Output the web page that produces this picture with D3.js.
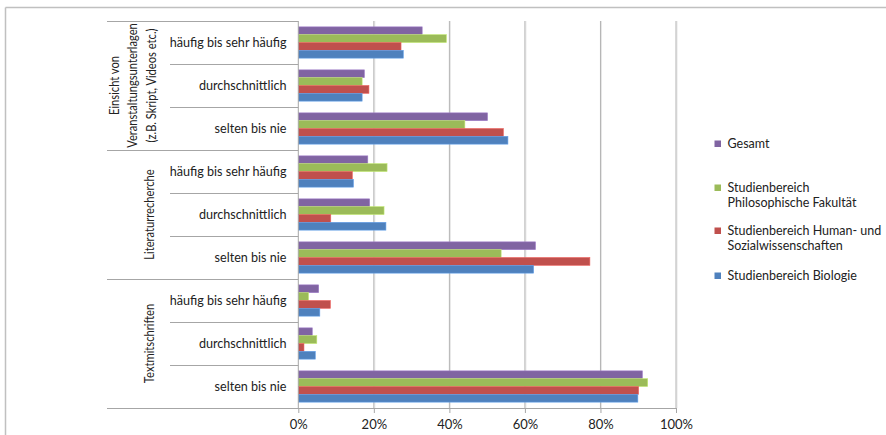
<!DOCTYPE html>
<html><head><meta charset="utf-8">
<script src="https://cdn.jsdelivr.net/npm/d3@7"></script>
<style>
body{margin:0;background:#fff;}
svg{display:block;}
text{font-family:"Lato","Open Sans",sans-serif;fill:#222;}
</style></head>
<body><svg id="c" width="886" height="435"></svg>
<script>
const groups = [
  ["Einsicht von","Veranstaltungsunterlagen","(z.B. Skript, Videos etc.)"],
  ["Literaturrecherche"],
  ["Textmitschriften"]
];
const levels = ["häufig bis sehr häufig","durchschnittlich","selten bis nie"];
const seriesNames = ["Gesamt","Studienbereich Philosophische Fakultät","Studienbereich Human- und Sozialwissenschaften","Studienbereich Biologie"];
const legendLines = [["Gesamt"],["Studienbereich","Philosophische Fakultät"],["Studienbereich Human- und","Sozialwissenschaften"],["Studienbereich Biologie"]];
const colors = ["#8064A2","#9BBB59","#C0504D","#4F81BD"];
// values per series, in order: group x level
const gesamt   = [32.8,17.5,50.1, 18.4,18.9,62.8, 5.4,3.7,91.1];
const philFak  = [39.2,16.9,44.1, 23.5,22.7,53.7, 2.7,4.9,92.5];
const humSoz   = [27.2,18.7,54.3, 14.3,8.6,77.2, 8.5,1.5,90.1];
const biologie = [27.8,16.9,55.5, 14.6,23.2,62.3, 5.7,4.5,89.9];
const seriesValues = [gesamt, philFak, humSoz, biologie];
const xTicks = [0,20,40,60,80,100];

(function(){
const svg = d3.select("#c");
svg.append("line").attr("x1",5.5).attr("x2",886).attr("y1",7.5).attr("y2",7.5).attr("stroke","#c0c0c0").attr("stroke-width",1.5);
svg.append("line").attr("x1",5.5).attr("x2",5.5).attr("y1",7.5).attr("y2",435).attr("stroke","#c0c0c0").attr("stroke-width",1.5);

const pL = 298.3, pR = 676, pT = 21, pB = 408;
const cats = [];
groups.forEach((g,gi)=>levels.forEach((l,li)=>cats.push(gi+"|"+li)));
const x = d3.scaleLinear().domain([0,100]).range([pL,pR]);
const y = d3.scaleBand().domain(cats).range([pT,pB]);
const yi = d3.scaleBand().domain(d3.range(4)).range([0,y.bandwidth()]).paddingInner(0).paddingOuter(0.75);

xTicks.slice(1).forEach(t=>{
  svg.append("line").attr("x1",x(t)+1).attr("x2",x(t)+1).attr("y1",pT).attr("y2",pB).attr("stroke","#e6e6e6").attr("stroke-width",1);
  svg.append("line").attr("x1",x(t)).attr("x2",x(t)).attr("y1",pT).attr("y2",pB).attr("stroke","#b3b3b3").attr("stroke-width",1);
});

seriesValues.forEach((vals,si)=>{
  svg.append("g").selectAll("rect").data(vals).join("rect")
    .attr("x",x(0)).attr("y",(d,i)=>y(cats[i])+yi(si))
    .attr("width",d=>x(d)-x(0)).attr("height",yi.bandwidth())
    .attr("fill",colors[si]).attr("stroke",d3.color(colors[si]).brighter(0.6)).attr("stroke-width",0.6);
});

const xa = svg.append("g").attr("transform",`translate(0,${pB})`)
  .call(d3.axisBottom(x).tickValues(xTicks).tickFormat(d=>d+"%").tickSize(5).tickPadding(7));
xa.select(".domain").remove();
xa.selectAll("line").attr("stroke","#a6a6a6");
xa.selectAll("text").style("font-size","13px").style("font-family","Lato, sans-serif").attr("fill","#222");
svg.append("line").attr("x1",107).attr("x2",pR).attr("y1",pB+0.5).attr("y2",pB+0.5).attr("stroke","#a6a6a6");
svg.append("line").attr("x1",pL).attr("x2",pL).attr("y1",pT).attr("y2",pB).attr("stroke","#a6a6a6");

cats.forEach((c,i)=>{
  const yy = Math.round(y(c))+0.5;
  const isGroup = i % 3 === 0;
  svg.append("line").attr("x1",isGroup?107:170).attr("x2",pL).attr("y1",yy).attr("y2",yy).attr("stroke","#a6a6a6");
  svg.append("text").attr("x",286.5).attr("y",y(c)+y.bandwidth()/2).attr("dy","0.35em")
    .attr("text-anchor","end").style("font-size","12.6px").text(levels[i%3]);
});

groups.forEach((g,gi)=>{
  const cy = y(gi+"|0") + y.bandwidth()*1.5;
  const n = g.length;
  g.forEach((line,li)=>{
    const cx = n === 1 ? 149.5 : 151.5 - (n-1-li)*18.5;
    const t = svg.append("text").attr("transform",`translate(${cx},${cy}) rotate(-90)`)
      .attr("text-anchor","middle").attr("dy","0.35em").style("font-size","12.4px").text(line);
    const w = t.node().getComputedTextLength();
    t.attr("textLength", w*0.9).attr("lengthAdjust","spacingAndGlyphs");
  });
});

const legY = [144,188,231,276];
legendLines.forEach((lines,si)=>{
  svg.append("rect").attr("x",714.5).attr("y",legY[si]-3.5).attr("width",6.5).attr("height",6.5).attr("fill",colors[si]);
  lines.forEach((t,li)=>{
    svg.append("text").attr("x",727.5).attr("y",legY[si]+li*15).attr("dy","0.35em").style("font-size","12.5px").text(t);
  });
});
})();
</script></body></html>
